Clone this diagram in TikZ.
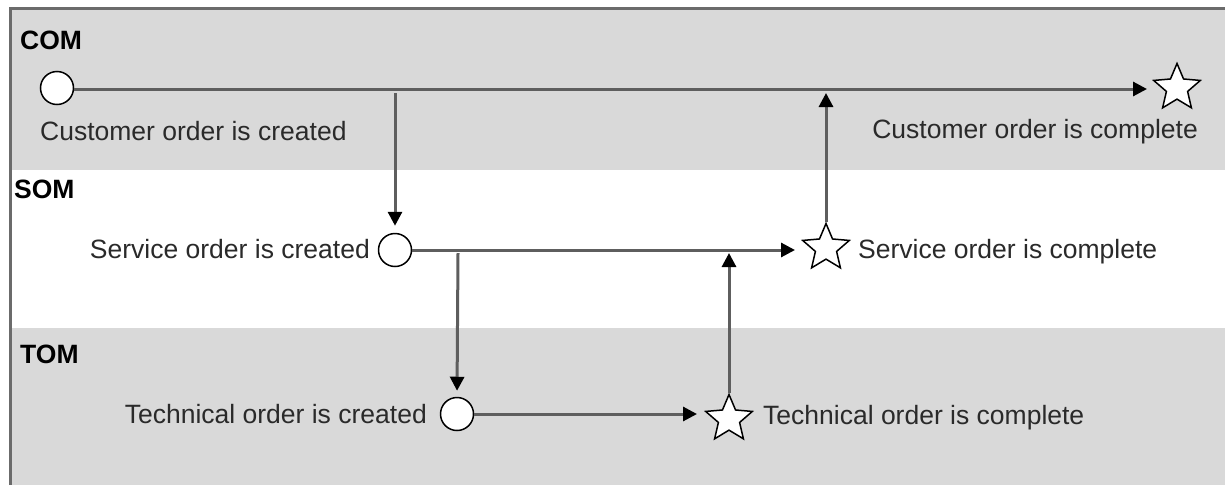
\documentclass[tikz,border=0pt]{standalone}
\usepackage{fontspec}
\setmainfont{Liberation Sans}
\usetikzlibrary{shapes.geometric,arrows.meta}
\definecolor{band}{HTML}{D9D9D9}
\definecolor{frame}{HTML}{6B6B6B}
\definecolor{conn}{HTML}{5E5E5E}
\definecolor{txt}{HTML}{2A2A2A}
\tikzset{
  evstart/.style={circle,draw=black,fill=white,line width=1.5pt,minimum size=33pt,inner sep=0pt},
  evend/.style={star,star points=5,star point ratio=2.2,draw=black,fill=white,line width=1.5pt,minimum size=49pt,inner sep=0pt},
  flow/.style={draw=conn,line width=3pt},
  arr/.style={flow,-{Triangle[length=14pt,width=14pt,fill=black,color=black]}},
  lane/.style={font=\fontsize{26.5}{30}\selectfont\bfseries,text=black,inner sep=0pt,anchor=base west},
  lbl/.style={font=\fontsize{26.5}{30}\selectfont,text=txt,inner sep=0pt}
}
\begin{document}
\begin{tikzpicture}[x=1pt,y=-1pt]
\useasboundingbox (0,0) rectangle (1225,485);
% bands
\fill[band] (10,8) rectangle (1225,170);
\fill[white] (10,170) rectangle (1225,328);
\fill[band] (10,328) rectangle (1225,485);
\draw[frame,line width=3pt] (10,485) -- (10,8.5) -- (1225,8.5);
% lane labels
\node[lane] (lcom) at (20,49) {COM};
\node[lane] (lsom) at (14,198) {SOM};
\node[lane] (ltom) at (20,363) {TOM};
% events
\node[evstart] (c1) at (57,88) {};
\node[evend] (s1) at (1177,88) {};
\node[evstart] (c2) at (395,250) {};
\node[evend] (s2) at (826,248) {};
\node[evstart] (c3) at (457,414) {};
\node[evend] (s3) at (729,419) {};
% texts
\node[lbl,anchor=base west] (t1) at (40,140) {Customer order is created};
\node[lbl,anchor=base east] (t2) at (1198,138) {Customer order is complete};
\node[lbl,anchor=base east] (t3) at (370,258) {Service order is created};
\node[lbl,anchor=base west] (t4) at (858,258) {Service order is complete};
\node[lbl,anchor=base east] (t5) at (427,423) {Technical order is created};
\node[lbl,anchor=base west] (t6) at (763,424) {Technical order is complete};
% junction coordinates
\coordinate (j1) at (395,93);
\coordinate (m1) at (826,93);
\coordinate (j2) at (458,253);
\coordinate (m2) at (729,253);
\coordinate (e1) at (1147,89);
\coordinate (e2) at (795,250);
\coordinate (e3) at (697,414);
% connectors
\draw[arr] (c1.east |- 0,89) -- (e1);
\draw[arr] (c2.east) -- (e2);
\draw[arr] (c3.east) -- (e3);
\draw[arr,shorten >=7pt] (j1) -- (c2.north);
\draw[arr,shorten >=6pt] (j2) -- (c3.north);
\draw[arr] (s2.north) -- (m1);
\draw[arr] (s3.north) -- (m2);
\end{tikzpicture}
\end{document}
